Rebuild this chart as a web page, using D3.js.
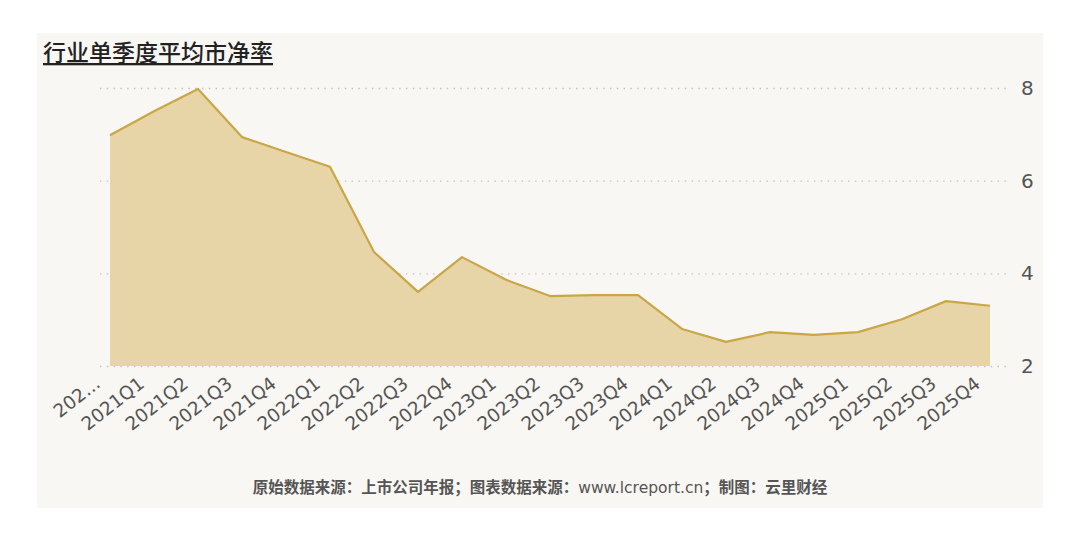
<!DOCTYPE html>
<html>
<head>
<meta charset="utf-8">
<script src="https://cdn.jsdelivr.net/npm/d3@7"></script>
<style>
  body { margin: 0; background: #ffffff; }
  svg { display: block; }
</style>
</head>
<body>
<svg id="chart" width="1080" height="545"></svg>
<script>
// quarters, first label is cut off in the source chart
var categories = ["202...", "2021Q1", "2021Q2", "2021Q3", "2021Q4", "2022Q1", "2022Q2",
  "2022Q3", "2022Q4", "2023Q1", "2023Q2", "2023Q3", "2023Q4", "2024Q1", "2024Q2",
  "2024Q3", "2024Q4", "2025Q1", "2025Q2", "2025Q3", "2025Q4"];
var pbValues = [6.98, 7.50, 7.98, 6.94, 6.62, 6.30, 4.46, 3.60, 4.35, 3.86, 3.51,
  3.53, 3.53, 2.80, 2.52, 2.73, 2.67, 2.73, 3.01, 3.40, 3.30];
var yTicks = [2, 4, 6, 8];
var titleText = "行业单季度平均市净率";

var svg = d3.select("#chart");

// panel background
svg.append("rect")
  .attr("x", 37).attr("y", 33)
  .attr("width", 1006).attr("height", 475)
  .attr("fill", "#f9f7f4");

svg.append("text")
  .attr("x", 43).attr("y", 61)
  .attr("font-family", "'Noto Sans CJK SC', sans-serif")
  .attr("font-size", 23)
  .attr("font-weight", 500)
  .attr("fill", "#222")
  .attr("text-decoration", "underline")
  .text(titleText);

var x = d3.scalePoint().domain(categories).range([110, 990]);
var y = d3.scaleLinear().domain([2, 8]).range([366, 88]);

// dotted grid
var grid = svg.append("g")
  .attr("transform", "translate(100,0)")
  .call(d3.axisRight(y).tickValues(yTicks).tickSize(908).tickFormat(""));
grid.select(".domain").remove();
grid.selectAll("line")
  .attr("stroke", "#c4c0bb")
  .attr("stroke-width", 1.4)
  .attr("stroke-dasharray", "1.4,5.4");

var area = d3.area()
  .x(function (d, i) { return x(categories[i]); })
  .y0(y(2))
  .y1(function (d) { return y(d); });

var line = d3.line()
  .x(function (d, i) { return x(categories[i]); })
  .y(function (d) { return y(d); });

svg.append("path")
  .datum(pbValues)
  .attr("d", area)
  .attr("fill", "#e8d5a7");

svg.append("path")
  .datum(pbValues)
  .attr("d", line)
  .attr("fill", "none")
  .attr("stroke", "#c9a646")
  .attr("stroke-width", 2.2)
  .attr("stroke-linejoin", "round");

// y labels on the right
var yAxis = svg.append("g")
  .attr("transform", "translate(1008,0)")
  .call(d3.axisRight(y).tickValues(yTicks).tickSize(0).tickPadding(13).tickFormat(d3.format("d")));
yAxis.select(".domain").remove();
yAxis.selectAll("text")
  .attr("font-family", "'DejaVu Sans', sans-serif")
  .attr("font-size", 20)
  .attr("fill", "#555");

// rotated quarter labels
var xAxis = svg.append("g")
  .attr("transform", "translate(0,366)")
  .call(d3.axisBottom(x).tickSize(0).tickPadding(0));
xAxis.select(".domain").remove();
xAxis.selectAll("text")
  .attr("font-family", "'DejaVu Sans', sans-serif")
  .attr("font-size", 18.5)
  .attr("fill", "#555")
  .attr("text-anchor", "end")
  .attr("dy", null)
  .attr("transform", "translate(-9,20) rotate(-38)");

// source note
var note = svg.append("text")
  .attr("x", 540).attr("y", 493)
  .attr("text-anchor", "middle")
  .attr("font-family", "'Noto Sans CJK SC', sans-serif")
  .attr("font-size", 15.5)
  .attr("font-weight", "bold")
  .attr("fill", "#555");
note.append("tspan").text("原始数据来源：上市公司年报；图表数据来源：");
note.append("tspan")
  .attr("font-weight", "normal")
  .attr("font-family", "'DejaVu Sans', sans-serif")
  .text("www.lcreport.cn");
note.append("tspan").text("；制图：云里财经");
</script>
</body>
</html>
